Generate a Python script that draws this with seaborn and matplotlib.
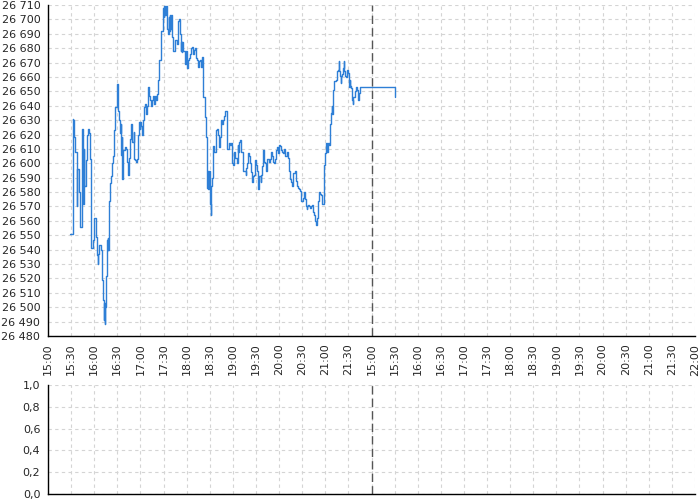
import seaborn as sns
import matplotlib
matplotlib.use("Agg")
import matplotlib.pyplot as plt
from matplotlib.ticker import FuncFormatter, MultipleLocator
import pandas as pd


# price trace, x = minutes from 15:00 on a compressed session axis (30 min per slot)
minutes_a = [29, 32, 32.5, 33, 33.4, 35.6, 37.3, 37.8, 40.4, 41.3, 43.9, 44.3, 45, 45.5, 46.0,
             46.5, 47.3, 48.7, 50.0, 51.7, 53.0, 54.3, 55.6, 58.6, 59.5, 62.1, 63.4, 64.7, 65.2,
             65.6, 68.6, 69.9, 71.3, 72.5, 73.0, 73.5, 74.2, 75.2, 76.5, 77.3, 78.0, 78.5, 79.1,
             80.4, 81.7, 83.0, 84.3, 85.6, 86.9, 89.1, 89.6, 90.1, 90.8, 92.1, 93.4, 93.9, 94.5,
             95.2, 95.6, 96.0, 97.8, 99.5, 101.3, 102.6, 103.9, 105.2, 106.9, 108.2, 109.5, 111.3,
             111.7, 113.4, 114.7, 116.0, 117.3, 118.6, 119.2, 119.8, 120.4, 122.1, 123.4, 124.7,
             126.0, 127.3, 128.6, 129.9, 131.2, 132.5, 133.8, 135.1, 136.5, 137.8, 138.6, 139.9,
             141.2]
prices_a = [26551, 26631, 26619, 26630, 26618, 26608, 26570, 26596, 26580, 26556, 26609, 26624,
            26612, 26624, 26572, 26610, 26584, 26602, 26620, 26624, 26621, 26603, 26541, 26547,
            26562, 26549, 26536, 26530, 26537, 26543, 26540, 26519, 26505, 26491, 26503, 26488,
            26500, 26522, 26547, 26540, 26548, 26540, 26574, 26586, 26591, 26600, 26605, 26623,
            26639, 26655, 26640, 26655, 26636, 26630, 26627, 26621, 26627, 26606, 26618, 26589,
            26609, 26611, 26610, 26601, 26592, 26604, 26617, 26627, 26615, 26622, 26603, 26602,
            26601, 26603, 26620, 26629, 26624, 26629, 26626, 26620, 26630, 26639, 26641, 26634,
            26640, 26653, 26647, 26644, 26640, 26644, 26647, 26641, 26647, 26644, 26648]

minutes_b = [142.5, 143.8, 146.9, 149.1, 149.9, 150.5, 151.2, 151.9, 153.0, 153.9, 155.2, 156.5,
             157.3, 158.0, 158.8, 159.9, 160.8, 161.7, 163.8, 164.7, 166.5, 167.3, 169.1, 170.4,
             171.7, 172.5, 173.2, 173.8, 174.5, 175.6, 176.9, 178.2, 179.5, 180.8, 181.7, 183.0,
             184.7, 186.0, 187.3, 188.2, 189.5, 190.8, 192.1, 193.4, 194.7, 196.0, 197.3, 198.6,
             199.9, 200.8, 201.7, 203.4, 204.7, 206.0, 206.6, 207.3, 208.0, 209.1, 210.4, 211.7,
             212.1, 213.0, 214.3, 215.6, 217.3, 218.6, 219.9, 221.2, 222.5, 223.4, 224.7, 226.4,
             227.7, 229.1, 230.4, 232.1, 233.0, 234.7, 236.0, 237.3, 238.6, 240.4, 241.7]
prices_b = [26658, 26672, 26692, 26701, 26708, 26702, 26709, 26703, 26709, 26693, 26690, 26702,
            26692, 26703, 26693, 26703, 26688, 26678, 26678, 26686, 26686, 26683, 26699, 26700,
            26690, 26678, 26684, 26677, 26684, 26678, 26678, 26669, 26678, 26666, 26672, 26673,
            26676, 26680, 26681, 26676, 26679, 26680, 26673, 26672, 26667, 26671, 26672, 26667,
            26674, 26661, 26646, 26632, 26618, 26593, 26583, 26595, 26582, 26595, 26572, 26564,
            26584, 26590, 26612, 26608, 26608, 26623, 26624, 26620, 26611, 26618, 26630, 26627,
            26630, 26633, 26636, 26623, 26610, 26614, 26613, 26614, 26600, 26599, 26608]

minutes_c = [243.0, 245.2, 246.5, 247.3, 248.0, 249.5, 250.8, 252.6, 255.2, 256.5, 257.3, 258.6,
             259.9, 261.2, 262.5, 263.9, 264.7, 266.5, 267.8, 269.1, 270.4, 271.7, 273.0, 273.4,
             274.7, 276.0, 276.9, 278.2, 279.5, 280.4, 281.7, 283.0, 284.3, 285.6, 286.9, 288.2,
             289.5, 290.8, 292.1, 293.4, 294.7, 296.0, 297.3, 298.7, 300.0, 301.3, 302.6, 303.9,
             305.2, 306.5, 307.8, 309.1, 310.4, 311.7, 313.0, 314.3, 315.6, 316.9, 318.2, 319.5,
             320.8, 322.1, 323.4, 324.7, 326.0, 327.3, 328.6, 329.9, 331.3, 332.6, 333.9, 335.2,
             335.8, 336.5, 337.8, 339.1, 340.4, 341.7, 343.0, 344.3, 345.6, 346.9, 347.8, 348.6,
             349.9, 351.2, 352.5, 353.8, 355.1, 357.3, 358.6, 359.9, 361.2, 361.8, 363.0, 364.7,
             366.0]
prices_c = [26604, 26600, 26613, 26608, 26615, 26616, 26608, 26595, 26595, 26592, 26597, 26600,
            26607, 26605, 26600, 26594, 26587, 26591, 26592, 26602, 26599, 26595, 26582, 26591,
            26591, 26587, 26592, 26598, 26609, 26601, 26600, 26595, 26603, 26603, 26601, 26603,
            26608, 26605, 26601, 26600, 26603, 26609, 26611, 26607, 26613, 26612, 26609, 26608,
            26607, 26610, 26605, 26605, 26608, 26604, 26595, 26589, 26587, 26584, 26593, 26593,
            26595, 26588, 26584, 26583, 26582, 26581, 26574, 26574, 26576, 26580, 26575, 26570,
            26568, 26570, 26571, 26570, 26569, 26570, 26571, 26566, 26564, 26560, 26557, 26562,
            26574, 26580, 26579, 26578, 26572, 26572, 26599, 26607, 26614, 26608, 26614, 26613,
            26627]

minutes_d = [367.3, 368.6, 369.2, 369.9, 371.2, 372.5, 373.9, 375.1, 376.4, 377.8, 378.4, 379.1,
             380.4, 380.9, 381.7, 383.0, 384.3, 384.9, 385.6, 386.9, 388.2, 389.5, 390.8, 391.5,
             392.1, 393.4, 394.7, 396.0, 396.6, 397.3, 398.6, 399.9, 401.2, 402.1, 403.4, 404.7,
             450.8]
prices_d = [26635, 26640, 26634, 26651, 26657, 26657, 26658, 26664, 26665, 26671, 26664, 26661,
            26656, 26661, 26662, 26666, 26671, 26664, 26661, 26660, 26665, 26663, 26653, 26658,
            26654, 26652, 26644, 26641, 26646, 26646, 26650, 26653, 26651, 26644, 26649, 26653,
            26646]

day1_labels = ["15:00", "15:30", "16:00", "16:30", "17:00", "17:30", "18:00", "18:30",
               "19:00", "19:30", "20:00", "20:30", "21:00", "21:30"]
day2_labels = ["15:00", "15:30", "16:00", "16:30", "17:00", "17:30", "18:00", "18:30",
               "19:00", "19:30", "20:00", "20:30", "21:00", "21:30", "22:00"]
tick_labels = day1_labels + day2_labels
day_break = 420  # minutes, where the second session starts

df = pd.DataFrame({
    "minute": minutes_a + minutes_b + minutes_c + minutes_d,
    "price": prices_a + prices_b + prices_c + prices_d,
})

sns.set_style("white")
plt.rcParams["font.family"] = ["DejaVu Sans"]
plt.rcParams["font.size"] = 8

fig = plt.figure(figsize=(7, 5), dpi=100)
ax = fig.add_axes([48 / 700, 1 - 336 / 500, 647 / 700, 331 / 500])
ax_vol = fig.add_axes([48 / 700, 1 - 494 / 500, 647 / 700, 109 / 500])

line_color = "#2e7fd6"
grid_kw = dict(color="#d4d4d4", linestyle=(0, (3, 3)), linewidth=0.8)
xticks = [i * 30 for i in range(len(tick_labels))]

# --- price panel ---
sns.lineplot(data=df, x="minute", y="price", ax=ax, color=line_color,
             linewidth=1.0, drawstyle="steps-post", estimator=None, sort=False)
ax.set_xlim(0, xticks[-1])
ax.set_ylim(26480, 26710)
ax.yaxis.set_major_locator(MultipleLocator(10))
ax.yaxis.set_major_formatter(FuncFormatter(lambda v, p: f"{int(v):,}".replace(",", " ")))
ax.set_xticks(xticks)
ax.set_xticklabels(tick_labels, rotation=90)
ax.set_xlabel("")
ax.set_ylabel("")
ax.grid(True, **grid_kw)
ax.set_axisbelow(True)
ax.axvline(day_break, color="#555555", linestyle=(0, (6, 3)), linewidth=1.0)

# --- volume panel (empty) ---
ax_vol.set_xlim(0, xticks[-1])
ax_vol.set_ylim(0, 1)
ax_vol.set_xticks(xticks)
ax_vol.tick_params(axis="x", length=0, labelbottom=False)
ax_vol.yaxis.set_major_locator(MultipleLocator(0.2))
ax_vol.yaxis.set_major_formatter(FuncFormatter(lambda v, p: f"{v:.1f}".replace(".", ",")))
ax_vol.grid(True, **grid_kw)
ax_vol.set_axisbelow(True)
ax_vol.axvline(day_break, color="#555555", linestyle=(0, (6, 3)), linewidth=1.0)

for a in (ax, ax_vol):
    for side in ("top", "right"):
        a.spines[side].set_visible(False)
    for side in ("left", "bottom"):
        a.spines[side].set_color("black")
        a.spines[side].set_linewidth(1.0)
    a.tick_params(axis="both", direction="out", length=4, width=0.8, color="black",
                  labelsize=8, pad=1.5)
ax_vol.tick_params(axis="x", length=0)

fig.savefig("out.png", dpi=100)
